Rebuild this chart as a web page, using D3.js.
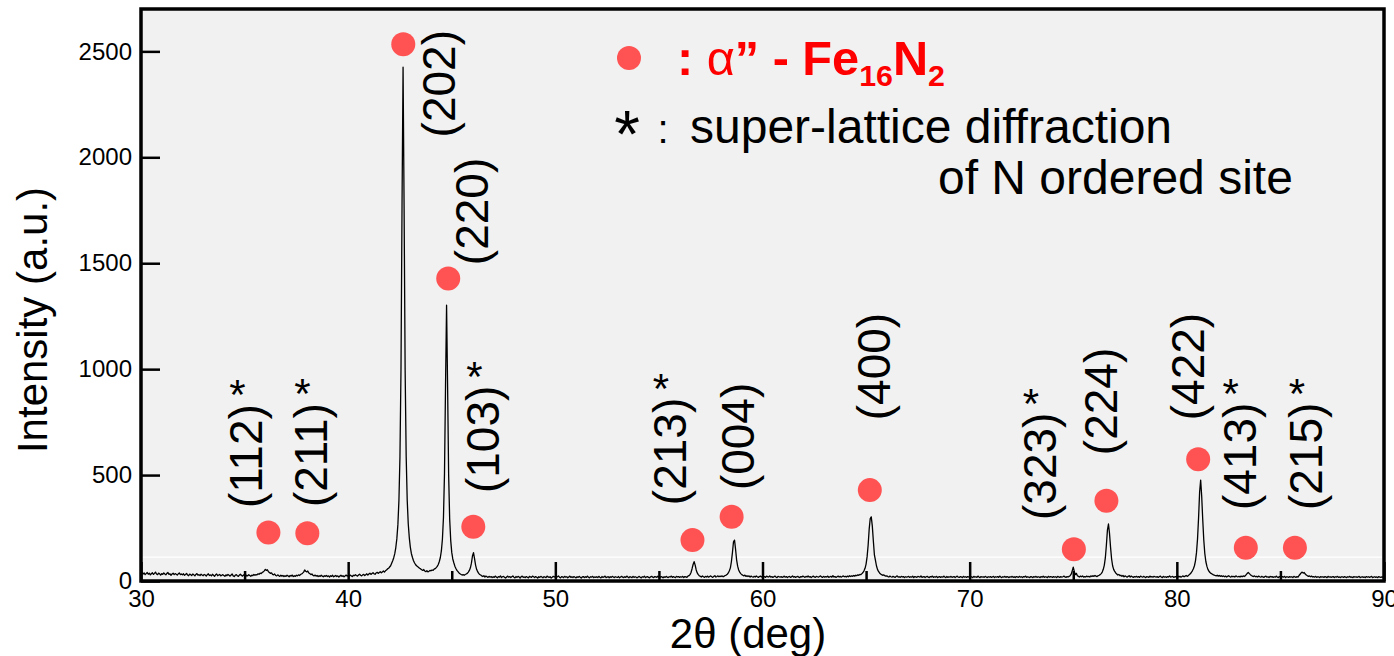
<!DOCTYPE html>
<html>
<head>
<meta charset="utf-8">
<style>
body {
   margin: 0;
   background: #fff;
}
svg {
   display: block;
   font-family: "Liberation Sans", Arial, sans-serif;
}
.tick text {
   font-size: 24px;
   fill: #000;
}
.tick line {
   stroke: #000;
   stroke-width: 2.5px;
}
</style>
</head>
<body>
<div id="chart"></div>
<script src="https://cdn.jsdelivr.net/npm/d3@7"></script>
<script>

// XRD scan: start angle, step and counts (one line per degree, 20 steps)
var scanStart = 30, scanStep = 0.05;
var counts = [
  36,41,33,38,30,35,40,32,37,29,34,39,31,36,42,33,30,37,34,28,      // 30
  35,31,38,33,29,36,40,31,34,27,33,37,30,35,32,28,34,38,30,33,      // 31
  29,34,27,31,36,28,25,32,30,26,33,29,24,31,35,27,30,26,32,28,      // 32
  25,31,28,23,30,34,26,29,24,32,27,22,29,33,25,28,31,24,27,30,      // 33
  26,22,29,25,31,27,23,28,33,24,21,27,30,25,22,28,32,26,23,29,      // 34
  25,21,27,24,30,26,22,28,25,31,27,30,29,34,32,37,35,40,43,48,      // 35
  55,50,53,44,40,36,38,31,29,33,26,24,29,25,22,27,23,26,21,25,      // 36
  22,27,24,20,26,23,28,21,25,22,27,24,29,26,31,33,37,42,52,46,      // 37
  43,47,38,35,30,33,27,24,28,23,26,21,25,22,27,23,20,25,22,26,      // 38
  21,24,19,25,22,27,20,23,26,21,24,19,23,27,22,25,20,24,28,23,      // 39
  26,23,28,24,21,27,25,30,26,23,28,32,27,24,29,31,26,30,34,28,      // 40
  33,37,31,35,39,34,32,38,41,36,40,44,39,43,47,42,48,52,57,60,      // 41
  66,72,84,96,110,129,158,200,266,380,587,998,1772,2425,1760,995,590,382,270,205, // 42
  160,130,112,97,86,78,72,68,64,60,57,53,50,54,47,44,49,43,46,50,   // 43
  48,52,50,56,58,63,69,78,92,111,143,198,300,508,923,1302,915,500,292,192, // 44
  135,104,86,70,59,50,44,38,34,31,28,30,27,31,33,36,42,50,62,84,    // 45
  118,134,106,75,55,44,36,31,28,24,21,25,19,23,20,17,22,18,21,16,   // 46
  20,17,23,19,15,21,18,24,16,20,22,17,14,19,23,18,21,16,20,24,      // 47
  18,15,21,17,22,19,14,20,23,17,19,16,21,18,15,22,19,17,23,20,      // 48
  16,21,18,14,20,17,22,19,15,21,18,16,23,19,17,20,14,18,22,19,      // 49
  21,17,20,24,18,15,21,19,16,22,18,20,15,19,23,17,20,16,21,18,      // 50
  15,20,17,22,18,14,19,21,16,20,17,23,18,15,20,18,22,16,19,17,      // 51
  20,16,22,18,15,21,17,19,23,16,18,21,15,20,17,22,19,16,20,18,      // 52
  17,21,15,19,22,18,16,20,17,23,19,15,21,18,16,22,17,20,18,15,      // 53
  19,22,17,15,20,18,23,16,19,21,17,15,20,22,18,16,21,19,17,23,      // 54
  18,16,21,19,15,20,17,22,18,16,20,19,23,17,21,18,16,22,19,21,      // 55
  17,20,18,22,16,21,19,17,23,25,30,40,58,78,91,75,52,38,30,25,      // 56
  22,19,24,20,17,22,19,23,18,21,24,20,17,22,25,19,21,24,20,23,      // 57
  21,24,20,23,26,28,32,38,48,62,92,135,185,193,150,100,70,52,42,35, // 58
  30,27,24,28,22,25,21,24,19,23,20,18,22,19,24,20,17,21,23,19,      // 59
  22,18,21,17,23,20,19,24,18,21,17,20,23,19,16,22,20,18,21,17,      // 60
  19,23,18,21,16,20,22,17,19,24,18,21,17,20,22,18,16,21,19,23,      // 61
  20,17,22,19,24,18,21,16,20,23,19,17,22,20,18,21,24,19,17,22,      // 62
  18,21,19,23,17,20,22,18,25,19,21,17,20,23,19,22,18,21,24,20,      // 63
  22,19,23,20,25,21,24,22,26,23,27,25,29,27,31,30,35,40,48,60,      // 64
  80,115,170,245,295,303,260,190,125,99,72,55,45,38,33,30,27,29,25,23, // 65
  24,21,19,23,20,18,22,19,17,21,24,18,20,17,22,19,21,16,20,18,      // 66
  19,22,17,20,18,23,16,21,19,17,22,20,18,24,17,19,21,16,20,22,      // 67
  18,16,21,19,23,17,20,18,22,16,19,21,17,20,18,23,19,16,21,17,      // 68
  20,18,22,17,19,21,16,20,23,18,17,21,19,16,22,18,20,17,21,19,      // 69
  17,21,19,16,22,18,20,17,23,19,16,21,18,20,17,22,19,16,20,18,      // 70
  21,17,19,22,16,20,18,21,17,23,19,16,20,18,22,17,21,19,16,20,      // 71
  18,22,17,20,16,21,19,17,22,18,20,16,21,19,23,17,20,18,16,21,      // 72
  19,16,21,18,22,17,20,19,16,21,18,23,17,20,19,16,22,18,21,20,      // 73
  17,21,18,20,16,22,19,17,21,18,20,23,19,17,21,19,22,25,32,48,      // 74
  65,45,30,36,25,22,19,23,20,24,18,21,19,23,20,22,19,24,21,25,      // 75
  22,26,23,21,25,27,30,35,42,55,75,110,170,240,269,225,160,105,72,55, // 76
  45,38,33,28,31,25,27,22,26,20,24,21,18,22,25,19,23,20,17,21,      // 77
  19,22,18,21,17,23,20,18,22,19,16,21,20,17,23,19,21,18,22,20,      // 78
  18,21,17,20,23,19,16,22,18,20,17,21,19,24,18,20,22,17,19,21,      // 79
  20,23,19,22,18,21,24,20,23,26,22,25,30,34,40,48,58,72,95,135,     // 80
  200,300,420,476,400,290,195,130,92,70,55,46,40,36,33,30,28,26,24,27, // 81
  23,26,22,25,21,24,20,23,19,22,25,21,18,23,20,22,19,24,21,20,      // 82
  22,19,23,20,24,21,24,30,36,40,35,30,26,23,21,24,20,22,19,23,      // 83
  20,18,22,19,17,21,23,18,20,16,22,19,21,17,20,18,23,19,16,21,      // 84
  19,17,21,18,22,16,20,19,17,21,18,20,16,22,19,17,21,18,26,32,      // 85
  38,42,37,40,33,28,25,22,24,20,23,19,21,18,22,17,20,19,16,21,      // 86
  18,20,17,21,19,16,22,18,20,17,19,21,16,20,18,22,17,19,16,20,      // 87
  19,17,21,18,16,20,18,22,17,19,16,21,18,20,17,19,22,16,18,20,      // 88
  17,19,16,21,18,20,17,19,22,16,18,20,17,19,16,21,18,17,19,18,      // 89
  17                                                                // 90
];

// alpha''-Fe16N2 reflections: marker dot and label anchor (2theta, counts)
var hkl         = ["(112)", "(211)", "(202)", "(220)", "(103)", "(213)", "(004)", "(400)", "(323)", "(224)", "(422)", "(413)", "(215)"];
var dotTheta    = [36.15, 38.03, 42.66, 44.83, 46.04, 56.62, 58.51, 65.18, 75.03, 76.6, 81.03, 83.33, 85.7];
var dotCounts   = [229, 225, 2534, 1428, 256, 193, 303, 429, 150, 379, 575, 157, 157];
var labelTheta  = [35.28, 38.42, 44.6, 46.19, 46.72, 55.72, 59.0, 65.57, 73.58, 76.53, 80.72, 83.23, 86.42];
var labelCounts = [344, 349, 2094, 1491, 415, 358, 429, 759, 288, 594, 759, 335, 335];
var superLattice = [true, true, false, false, true, true, false, false, true, false, false, true, true];

// axis ticks
var xMajor = [30, 40, 50, 60, 70, 80, 90];
var xMinor = [35, 45, 55, 65, 75, 85];
var yMajor = [0, 500, 1000, 1500, 2000, 2500];

var dotColor = "#ff5252";

// set the dimensions and margins of the graph
var margin = {top: 9, right: 10, bottom: 75, left: 141},
    width = 1394 - margin.left - margin.right,
    height = 656 - margin.top - margin.bottom;

var x = d3.scaleLinear().domain([30, 90]).range([0, width]);
var y = d3.scaleLinear().domain([0, 2700]).range([height, 0]);

var root = d3.select("#chart").append("svg")
    .attr("width", 1394)
    .attr("height", 656);

var svg = root.append("g")
    .attr("transform", "translate(" + margin.left + "," + margin.top + ")");

// plot background
svg.append("rect")
    .attr("width", width)
    .attr("height", height)
    .attr("fill", "#f1f1f1");

// faint white rule across the lower part of the plot
svg.append("line")
    .attr("x1", 2).attr("x2", width - 2)
    .attr("y1", y(113)).attr("y2", y(113))
    .attr("stroke", "#fff")
    .attr("stroke-width", 1.2);

// the scan
var scan = counts.map(function(c, i) { return [scanStart + i * scanStep, c]; });
svg.append("path")
    .datum(scan)
    .attr("fill", "none")
    .attr("stroke", "#000")
    .attr("stroke-width", 1.3)
    .attr("stroke-linejoin", "round")
    .attr("d", d3.line()
        .x(function(d) { return x(d[0]); })
        .y(function(d) { return y(d[1]); }));

// marker dots
svg.selectAll(".dot")
    .data(dotTheta)
  .enter().append("circle")
    .attr("class", "dot")
    .attr("cx", function(d) { return x(d); })
    .attr("cy", function(d, i) { return y(dotCounts[i]); })
    .attr("r", 12)
    .attr("fill", dotColor);

// rotated hkl labels
var labels = svg.selectAll(".hkl")
    .data(hkl)
  .enter().append("text")
    .attr("class", "hkl")
    .attr("transform", function(d, i) {
      return "translate(" + x(labelTheta[i]) + "," + y(labelCounts[i]) + ") rotate(-90)";
    })
    .attr("dy", "0.26em")
    .attr("font-size", 46)
    .attr("fill", "#000")
    .text(function(d) { return d; });

// asterisks for the super-lattice reflections
labels.each(function(d, i) {
  if (!superLattice[i]) return;
  var len = this.getComputedTextLength();
  var cy = y(labelCounts[i]) - len - 19;
  svg.append("text")
      .attr("x", x(labelTheta[i]) - 13)
      .attr("y", cy + 0.58 * 42)
      .attr("text-anchor", "middle")
      .attr("font-size", 42)
      .text("*");
});

// axes
function plain(g) {
  g.attr("font-family", null).attr("font-size", null);
  g.select(".domain").remove();
}

svg.append("g")
    .attr("transform", "translate(0," + height + ")")
    .call(d3.axisBottom(x).tickValues(xMajor).tickFormat(d3.format("d"))
        .tickSizeInner(-19).tickSizeOuter(0).tickPadding(9))
    .call(plain);

svg.append("g")
    .attr("transform", "translate(0," + height + ")")
    .call(d3.axisBottom(x).tickValues(xMinor).tickSizeInner(-10).tickSizeOuter(0).tickFormat(""))
    .call(plain);

svg.append("g")
    .call(d3.axisLeft(y).tickValues(yMajor).tickFormat(d3.format("d"))
        .tickSizeInner(-19).tickSizeOuter(0).tickPadding(9))
    .call(plain);

// frame
svg.append("rect")
    .attr("width", width)
    .attr("height", height)
    .attr("fill", "none")
    .attr("stroke", "#000")
    .attr("stroke-width", 3.5);

// axis titles
root.append("text")
    .attr("transform", "translate(47,320) rotate(-90)")
    .attr("text-anchor", "middle")
    .attr("font-size", 42)
    .text("Intensity (a.u.)");

root.append("text")
    .attr("x", 748)
    .attr("y", 648)
    .attr("text-anchor", "middle")
    .attr("font-size", 42)
    .text("2\u03b8 (deg)");

// legend
root.append("circle")
    .attr("cx", 629).attr("cy", 58).attr("r", 12)
    .attr("fill", dotColor);

var l1 = root.append("text")
    .attr("fill", "#ff0000")
    .attr("font-size", 48)
    .attr("font-weight", "bold");
l1.append("tspan").text(": ");
l1.append("tspan").attr("font-weight", "normal").text("\u03b1");
l1.append("tspan").text("\u201d - Fe");
l1.append("tspan").attr("font-size", 30).attr("dy", 11).text("16");
l1.append("tspan").attr("dy", -11).text("N");
l1.append("tspan").attr("font-size", 30).attr("dy", 11).text("2");
var l1w = l1.node().getComputedTextLength();
l1.attr("transform", "translate(677,75) scale(" + (268 / l1w) + ",1)");

root.append("text")
    .attr("x", 627).attr("y", 157)
    .attr("text-anchor", "middle")
    .attr("font-size", 66)
    .text("*");

root.append("text")
    .attr("x", 663).attr("y", 143)
    .attr("text-anchor", "middle")
    .attr("font-size", 40)
    .text(":");

root.append("text")
    .attr("x", 690).attr("y", 143)
    .attr("font-size", 48)
    .text("super-lattice diffraction");

root.append("text")
    .attr("x", 938).attr("y", 194)
    .attr("font-size", 48)
    .text("of N ordered site");

</script>
</body>
</html>
